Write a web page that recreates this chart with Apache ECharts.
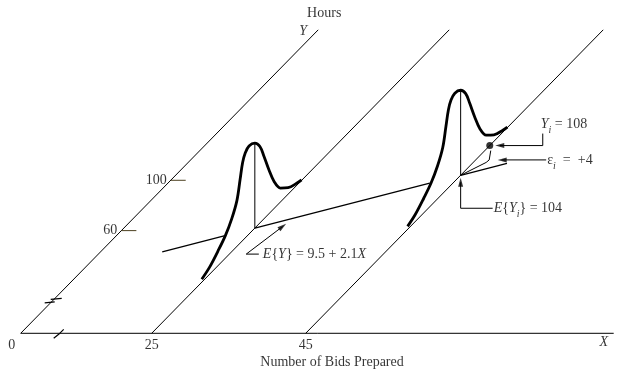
<!DOCTYPE html>
<html><head><meta charset="utf-8">
<script src="https://cdn.jsdelivr.net/npm/echarts@6/dist/echarts.min.js"></script>
<style>html,body{margin:0;padding:0;background:#fff}#c{width:625px;height:372px}</style>
</head><body><div id="c"></div>
<script>
// ---------------- data ----------------
const xTickValues = [0, 25, 45];            // X axis labels (Number of Bids Prepared)
const yTickValues = [60, 100];              // Y axis labels (Hours)
const b0 = 9.5, b1 = 2.1;                   // E{Y} = 9.5 + 2.1X
const densityLevels = [25, 45];             // X levels where distributions are drawn
const regVisible = [[16, 22.2], [25, 42], [45, 49.5]]; // visible pieces of regression line (X ranges)
const densityDev = [-43, -36.8, -30, -23.9, -18.7, -14.5, -11.9, -9.9, -7.8, -4.7, 0, 4.1, 7.3, 11.4, 15.6, 20.7, 27, 34.2, 37.9];
const densityHt  = [3, 7, 14.5, 22.5, 33, 46, 64, 78, 85, 88, 85, 76.5, 63, 44, 27, 14, 6.5, 2, 0.5];
const obsX = 45, obsY = 108, obsEY = 104, obsEps = 4;
const axisYMax = 219.6, axisXMax = 85;

// ---------------- oblique projection (plane units = pixels) ----------------
const O = [20.7, 333.3];
const X25 = 151.7, xUnit = 7.7;
const dir = [0.7, -0.714];
const t0 = 38.1, tUnit = 1.762;
const epsMag = 5.9;   // residual drawn enlarged for visibility
function baseX(X) { return X === 0 ? O[0] : X25 + (X - 25) * xUnit; }
function tY(Y) { return Y <= 0 ? 0 : t0 + Y * tUnit; }
function P(X, Y, h) { const t = tY(Y); return [baseX(X) + t * dir[0], O[1] + t * dir[1] - (h || 0)]; }
function add(p, dx, dy) { return [p[0] + dx, p[1] + dy]; }
const EY = X => b0 + b1 * X;

const series = [];
const thin = { color: '#000', width: 1 };
function line(pts, style, extra) {
  series.push(Object.assign({ type: 'line', data: pts, showSymbol: false, symbol: 'none',
    lineStyle: style, silent: true, z: 2 }, extra || {}));
}
const heads = [];
function arrow(pts) {
  const n = pts.length, a = pts[n - 2], b = pts[n - 1];
  const dx = b[0] - a[0], dy = b[1] - a[1], L = Math.hypot(dx, dy);
  const ux = dx / L, uy = dy / L;
  const c = [b[0] - ux * 4, b[1] - uy * 4];
  line(pts.slice(0, n - 1).concat([c]), thin);
  const ang = Math.atan2(-uy, ux) * 180 / Math.PI - 90;
  heads.push({ value: c, symbolRotate: ang });
}
const texts = [];
function text(p, str, pos, extra) {
  texts.push({ value: p, label: Object.assign({ show: true, formatter: str, position: pos, distance: 0 }, extra || {}) });
}

// axes
line([P(0, 0), P(0, axisYMax)], thin);
line([O, [baseX(axisXMax), O[1]]], thin);
densityLevels.forEach(X => line([P(X, 0), P(X, axisYMax)], thin));
// axis breaks
const yb = P(0, 0);
line([add(yb, 24, -30.5), add(yb, 34, -31.5)], { color: '#000', width: 1.2 });
line([add(yb, 30, -34), add(yb, 41, -35)], { color: '#000', width: 1.2 });
line([add(O, 33, 5), add(O, 38, 1), add(O, 40, -1), add(O, 43, -4)], { color: '#000', width: 1.2 });
// y ticks
yTickValues.forEach(v => {
  const p = P(0, v);
  line([p, add(p, 15, 0)], { color: '#4d4020', width: 1 });
  text(add(p, -4, 0), String(v), 'left');
});
// x tick labels
xTickValues.forEach(v => {
  const p = P(v, 0);
  text(add(p, v === 0 ? -9 : 0, 12), String(v), 'inside');
});
// regression line pieces
regVisible.forEach(r => line([P(r[0], EY(r[0])), P(r[1], EY(r[1]))], { color: '#000', width: 1.3 }));
// density curves + centre lines
densityLevels.forEach(X => {
  const m = EY(X);
  line([P(X, m, 0), P(X, m, densityHt[densityDev.indexOf(0)])], thin);
  line(densityDev.map((dv, i) => P(X, m + dv, densityHt[i])), { color: '#000', width: 2.8 }, { smooth: 0.35, z: 3 });
});
// observation
const V = P(obsX, obsEY);
const D = P(obsX, obsEY + (obsY - obsEY) * epsMag);
const M = P(obsX, obsEY + (obsY - obsEY) * epsMag / 2);
line([V, add(M, 11, 2), add(M, 14, -0.5), add(M, 12, -1.5), add(D, 1, 5)], thin);
series.push({ type: 'scatter', data: [D], symbolSize: 7, itemStyle: { color: '#000' }, silent: true, z: 5 });
// annotations
arrow([[D[0] + 53, D[1] - 12], [D[0] + 53, D[1]], [D[0] + 6, D[1]]]);
text([D[0] + 51, D[1] - 21], '{i|Y}{s|i} = ' + obsY, 'right');
const K = add(M, 14, -0.5);
arrow([[K[0] + 57, K[1]], [K[0] + 9, K[1]]]);
text([K[0] + 58, K[1]], 'ε{s|i}  =  +' + obsEps, 'right');
arrow([[V[0] + 32, V[1] + 33], [V[0], V[1] + 33], [V[0], V[1] + 3]]);
text([V[0] + 33, V[1] + 33], '{i|E}{{i|Y}{s|i}} = ' + obsEY, 'right');
const V1 = P(25, EY(25));
const tip = add(P(28, EY(28)), 0, 4);
arrow([[V1[0] + 4, V1[1] + 26], [V1[0] - 8.6, V1[1] + 26], tip]);
text([V1[0] + 8, V1[1] + 26], '{i|E}{{i|Y}} = ' + b0 + ' + ' + b1 + '{i|X}', 'right');
// axis titles
const Ytop = P(0, axisYMax);
text(add(Ytop, 6, -16), 'Hours', 'inside');
text(add(Ytop, -15, 1), '{i|Y}', 'inside');
text([baseX(axisXMax) - 10, O[1] + 9], '{i|X}', 'inside');
text([332, 362], 'Number of Bids Prepared', 'inside');

series.push({ type: 'scatter', data: heads, symbol: 'triangle', symbolSize: [5, 9],
  itemStyle: { color: '#000' }, silent: true, z: 5 });

const font = { fontFamily: 'Liberation Serif, Times New Roman, serif', fontSize: 14, color: '#000' };
const rich = {
  i: Object.assign({}, font, { fontStyle: 'italic', lineHeight: 22 }),
  s: Object.assign({}, font, { fontStyle: 'italic', fontSize: 10, verticalAlign: 'bottom', lineHeight: 10 })
};
series.push({ type: 'scatter', data: texts, symbolSize: 0, silent: true, z: 6,
  label: Object.assign({ show: true, rich: rich, lineHeight: 22 }, font) });

const chart = echarts.init(document.getElementById('c'));
chart.setOption({
  animation: false,
  backgroundColor: '#fff',
  grid: { left: 0, right: 0, top: 0, bottom: 0 },
  xAxis: { type: 'value', min: 0, max: 625, show: false },
  yAxis: { type: 'value', min: 0, max: 372, inverse: true, show: false },
  series: series
});
</script></body></html>
